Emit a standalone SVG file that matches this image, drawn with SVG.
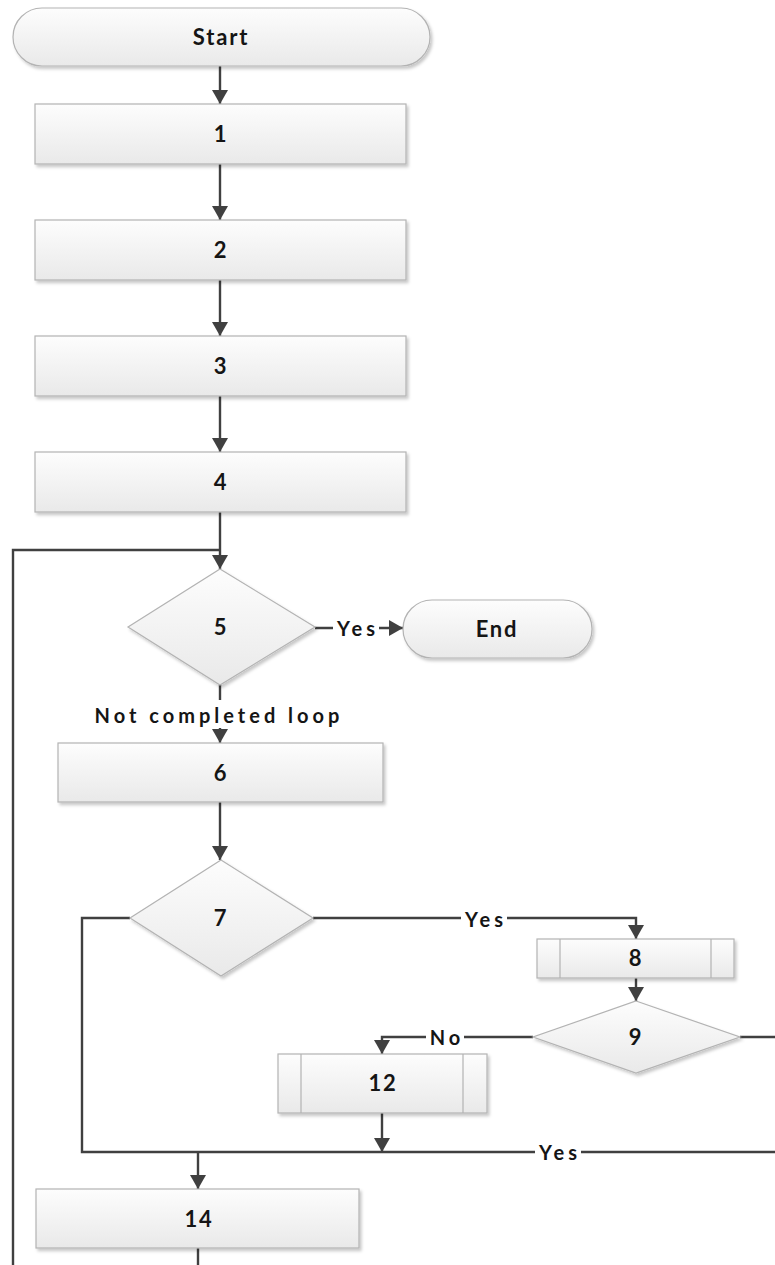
<svg xmlns="http://www.w3.org/2000/svg" width="775" height="1265" viewBox="0 0 775 1265">
<defs>
  <linearGradient id="g" x1="0" y1="0" x2="0" y2="1">
    <stop offset="0" stop-color="#fdfdfd"/>
    <stop offset="1" stop-color="#e9e9e9"/>
  </linearGradient>
  <filter id="sh" x="-10%" y="-10%" width="130%" height="140%">
    <feDropShadow dx="2" dy="2.5" stdDeviation="1.5" flood-color="#000" flood-opacity="0.22"/>
  </filter>
  <marker id="arr" markerUnits="userSpaceOnUse" markerWidth="15" markerHeight="16" refX="14" refY="8" orient="auto">
    <path d="M0,0 L14,8 L0,16 z" fill="#404040"/>
  </marker>
  <style>
    .shape{fill:url(#g);stroke:#b3b3b3;stroke-width:1.2;filter:url(#sh)}
    .inner{stroke:#b3b3b3;stroke-width:1.2;fill:none}
    .t{font-family:Lato,"Liberation Sans",sans-serif;font-weight:bold;font-size:22px;fill:#151515;text-anchor:middle;letter-spacing:1.8px}
    .lbl{font-family:Lato,"Liberation Sans",sans-serif;font-weight:bold;font-size:20px;fill:#151515;text-anchor:middle;letter-spacing:4px}
    .c{fill:none;stroke:#404040;stroke-width:2.4}
    .bg{fill:#fff}
  </style>
</defs>
<rect width="775" height="1265" fill="#fff"/>

<g id="connectors">
  <path class="c" d="M220 66 V104" marker-end="url(#arr)"/>
  <path class="c" d="M220 164 V220" marker-end="url(#arr)"/>
  <path class="c" d="M220 280 V336" marker-end="url(#arr)"/>
  <path class="c" d="M220 396 V452" marker-end="url(#arr)"/>
  <path class="c" d="M220 512 V569" marker-end="url(#arr)"/>
  <path class="c" d="M13 1265 V550 H220"/>
  <path class="c" d="M315 628 H403" marker-end="url(#arr)"/>
  <path class="c" d="M220 685 V743" marker-end="url(#arr)"/>
  <path class="c" d="M220 802 V860" marker-end="url(#arr)"/>
  <path class="c" d="M130 918 H82 V1152 H790"/>
  <path class="c" d="M313 918 H636 V939" marker-end="url(#arr)"/>
  <path class="c" d="M636 978 V1001" marker-end="url(#arr)"/>
  <path class="c" d="M740 1037 H790"/>
  <path class="c" d="M533 1037 H382 V1054" marker-end="url(#arr)"/>
  <path class="c" d="M382 1113 V1152" marker-end="url(#arr)"/>
  <path class="c" d="M198 1152 V1189" marker-end="url(#arr)"/>
  <path class="c" d="M198 1248 V1265"/>
  <g id="labels">
    <rect class="bg" x="333" y="618" width="46" height="20"/>
    <text class="lbl" x="358" y="636">Yes</text>
    <rect class="bg" x="88" y="700" width="262" height="28"/>
    <text class="lbl" x="219" y="723">Not completed loop</text>
    <rect class="bg" x="461" y="908" width="46" height="20"/>
    <text class="lbl" x="486" y="927">Yes</text>
    <rect class="bg" x="426" y="1027" width="38" height="20"/>
    <text class="lbl" x="447" y="1045">No</text>
    <rect class="bg" x="535" y="1142" width="46" height="20"/>
    <text class="lbl" x="560" y="1160">Yes</text>
  </g>
</g>

<g id="start">
  <rect class="shape" x="13" y="8" width="417" height="58" rx="29"/>
  <text class="t" x="221" y="45">Start</text>
</g>
<g id="n1">
  <rect class="shape" x="35" y="104" width="371" height="60"/>
  <text class="t" x="221" y="142">1</text>
</g>
<g id="n2">
  <rect class="shape" x="35" y="220" width="371" height="60"/>
  <text class="t" x="221" y="258">2</text>
</g>
<g id="n3">
  <rect class="shape" x="35" y="336" width="371" height="60"/>
  <text class="t" x="221" y="374">3</text>
</g>
<g id="n4">
  <rect class="shape" x="35" y="452" width="371" height="60"/>
  <text class="t" x="221" y="490">4</text>
</g>
<g id="n5">
  <polygon class="shape" points="220,569 315,627 220,685 128,627"/>
  <text class="t" x="221" y="635">5</text>
</g>
<g id="end">
  <rect class="shape" x="403" y="600" width="189" height="58" rx="29"/>
  <text class="t" x="497" y="637">End</text>
</g>
<g id="n6">
  <rect class="shape" x="58" y="743" width="325" height="59"/>
  <text class="t" x="221" y="781">6</text>
</g>
<g id="n7">
  <polygon class="shape" points="221,860 313,918 221,976 130,918"/>
  <text class="t" x="221" y="926">7</text>
</g>
<g id="n8">
  <rect class="shape" x="537" y="939" width="197" height="39"/>
  <line class="inner" x1="560" y1="939" x2="560" y2="978"/>
  <line class="inner" x1="711" y1="939" x2="711" y2="978"/>
  <text class="t" x="636" y="966">8</text>
</g>
<g id="n9">
  <polygon class="shape" points="636,1001 740,1037 636,1073 533,1037"/>
  <text class="t" x="636" y="1045">9</text>
</g>
<g id="n12">
  <rect class="shape" x="278" y="1054" width="209" height="59"/>
  <line class="inner" x1="301" y1="1054" x2="301" y2="1113"/>
  <line class="inner" x1="463" y1="1054" x2="463" y2="1113"/>
  <text class="t" x="383" y="1091">12</text>
</g>
<g id="n14">
  <rect class="shape" x="36" y="1189" width="323" height="59"/>
  <text class="t" x="199" y="1227">14</text>
</g>
</svg>
